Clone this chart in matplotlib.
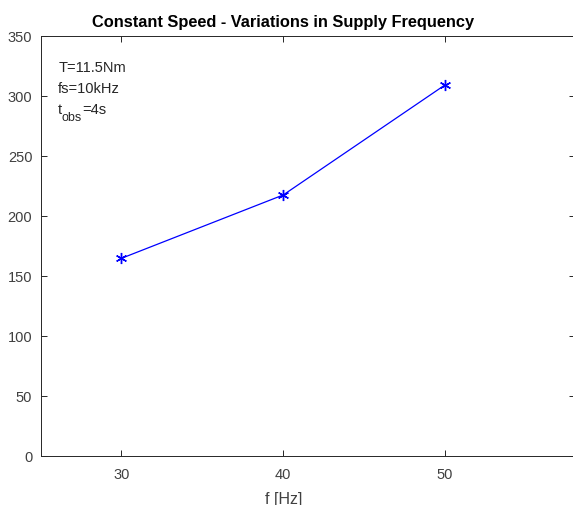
import matplotlib.pyplot as plt

# supply frequency [Hz] and measured speed
freq = [30, 40, 50]
speed = [164.5, 217.3, 309.0]

x_ticks = [30, 40, 50]
y_ticks = [0, 50, 100, 150, 200, 250, 300, 350]

plt.rcParams['font.family'] = ['Liberation Sans', 'DejaVu Sans']

fig = plt.figure(figsize=(5.73, 5.06), dpi=100)
# axes box runs off the right edge of the picture
ax = fig.add_axes([40.6 / 573, 1 - 456.7 / 506, (574.5 - 40.6) / 573, 420 / 506])

ax.plot(freq, speed, color='#0000ff', linewidth=0.9,
        marker=(6, 2, 0), markersize=8, markeredgewidth=1.0)

xmin, xmax = 25, 58
ax.set_xlim(xmin, xmax)
ax.set_ylim(0, 350)
ax.set_xticks(x_ticks)
ax.set_yticks(y_ticks)

grey = '#262626'
for s in ax.spines.values():
    s.set_color(grey)
    s.set_linewidth(0.7)
ax.tick_params(direction='in', top=True, right=True, length=4, width=0.7,
               colors=grey, labelsize=10.5, labelcolor='#404040', pad=6)
ax.tick_params(axis='x', pad=8)

ax.set_title('Constant Speed - Variations in Supply Frequency',
             fontsize=11.8, fontweight='bold', color='black', pad=7)
ax.title.set_x((40 - xmin) / (xmax - xmin))

ax.set_xlabel('f [Hz]', fontsize=11.5, color='#404040')
ax.xaxis.set_label_coords((40 - xmin) / (xmax - xmin), -0.083)

# annotation block
tx = 0.033
kw = dict(transform=ax.transAxes, fontsize=10.5, color='#262626',
          va='baseline', ha='left')
ax.text(tx, 0.916, 'T=11.5Nm', **kw)
ax.text(tx, 0.866, 'fs=10kHz', **kw)
ax.text(tx, 0.816, 't', **kw)
ax.annotate('obs', xy=(tx, 0.816), xycoords='axes fraction',
            xytext=(2.6, -5), textcoords='offset points',
            fontsize=9, color='#262626', va='baseline', ha='left')
ax.annotate('=4s', xy=(tx, 0.816), xycoords='axes fraction',
            xytext=(17.2, 0), textcoords='offset points',
            fontsize=10.5, color='#262626', va='baseline', ha='left')

fig.savefig('out.png', dpi=100)
